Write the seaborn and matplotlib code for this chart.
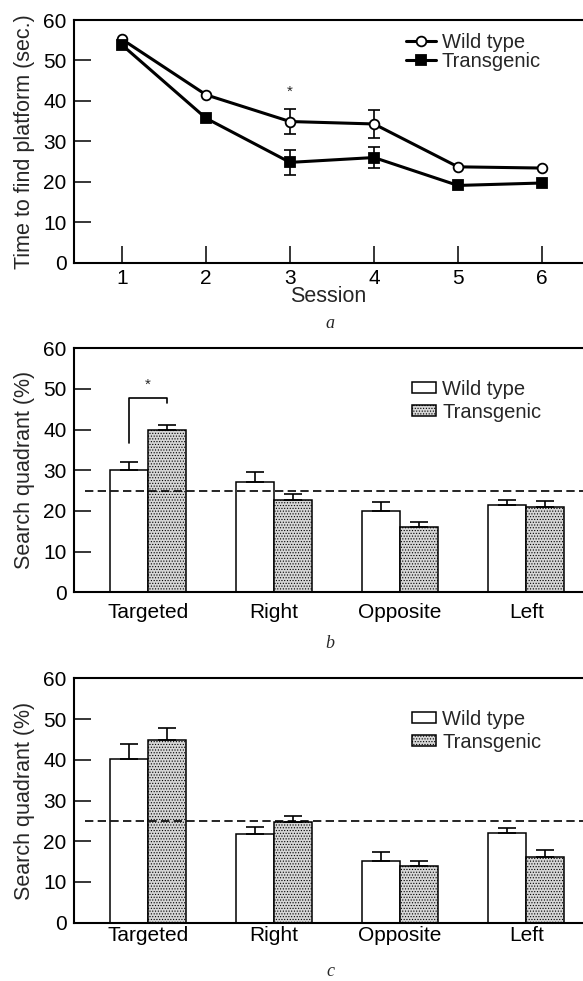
import numpy as np
import pandas as pd
import matplotlib
matplotlib.use("Agg")
import matplotlib.pyplot as plt
import seaborn as sns

# ---------------- data ----------------
sessions = [1, 2, 3, 4, 5, 6]
wt_time = [55.2, 41.5, 34.9, 34.3, 23.7, 23.4]
tg_time = [53.8, 35.7, 24.8, 26.0, 19.1, 19.7]
wt_time_err = [0.0, 0.0, 3.0, 3.5, 0.0, 0.0]
tg_time_err = [0.0, 0.0, 3.0, 2.7, 0.0, 0.0]

genotypes = ["Wild type", "Transgenic"]
quadrants = ["Targeted", "Right", "Opposite", "Left"]

b_wt = [30.0, 27.1, 20.1, 21.4]
b_wt_err = [2.0, 2.5, 2.2, 1.2]
b_tg = [39.9, 22.7, 16.0, 20.9]
b_tg_err = [1.3, 1.5, 1.3, 1.5]

c_wt = [40.1, 21.8, 15.2, 21.9]
c_wt_err = [3.7, 1.8, 2.1, 1.4]
c_tg = [44.8, 24.8, 14.0, 16.1]
c_tg_err = [2.9, 1.5, 1.2, 1.7]

chance_level = 25
star_a = (3, 42.3)
bracket_b = [36.7, 47.8, 46.5]   # left leg bottom, top, right leg bottom
star_b_y = 51.0

# ---------------- style ----------------
sns.set_style("white")
plt.rcParams["font.family"] = ["Liberation Sans", "DejaVu Sans"]
plt.rcParams["hatch.color"] = "#9a9a9a"
plt.rcParams["hatch.linewidth"] = 0.5

FS_TICK = 15
FS_LAB = 15.5
FS_LEG = 14.5

fig = plt.figure(figsize=(5.83, 9.81), dpi=100)
W, H = 583, 981


def axes_px(left, top, right, bottom):
    return fig.add_axes([left / W, 1 - bottom / H, (right - left) / W, (bottom - top) / H])


ax_a = axes_px(74.3, 20.0, 583, 262.7)
ax_b = axes_px(74.3, 348.3, 583, 592.3)
ax_c = axes_px(74.3, 678.3, 583, 922.7)


def style_axes(ax):
    for s in ["top", "left", "bottom"]:
        ax.spines[s].set_visible(True)
        ax.spines[s].set_linewidth(1.5)
        ax.spines[s].set_color("black")
    ax.spines["right"].set_visible(False)
    ax.set_ylim(0, 60)
    ax.set_yticks(range(0, 61, 10))
    ax.tick_params(axis="y", direction="in", length=12, width=1.1, pad=5.5,
                   labelsize=FS_TICK, colors="black", left=True)


# ---------------- panel a ----------------
df_a = pd.DataFrame({
    "Session": sessions * 2,
    "Time": wt_time + tg_time,
    "Err": wt_time_err + tg_time_err,
    "Genotype": [genotypes[0]] * len(sessions) + [genotypes[1]] * len(sessions),
})

ax = ax_a
for g, mk, mfc, ms in [(genotypes[0], "o", "white", 7), (genotypes[1], "s", "black", 7.5)]:
    sub = df_a[df_a["Genotype"] == g]
    e = sub[sub["Err"] > 0]
    ax.errorbar(e["Session"], e["Time"], yerr=e["Err"], fmt="none", ecolor="black",
                elinewidth=1.2, capsize=4, capthick=1.2, zorder=1)
    sns.lineplot(data=sub, x="Session", y="Time", ax=ax, color="black", lw=2.2,
                 marker=mk, markerfacecolor=mfc, markeredgecolor="black",
                 markeredgewidth=1.3, markersize=ms, label=g, zorder=3)

style_axes(ax)
ax.set_xlim(0.43, 6.49)
ax.set_xticks(sessions)
ax.tick_params(axis="x", direction="in", length=12.5, width=1.1, pad=4.8,
               labelsize=FS_TICK, colors="black", bottom=True)
ax.set_xlabel("Session", fontsize=FS_LAB, labelpad=-2)
ax.set_ylabel("Time to find platform (sec.)", fontsize=FS_LAB, labelpad=6)
ax.text(star_a[0], star_a[1], "*", ha="center", va="center", fontsize=11)
ax.legend(loc="upper left", bbox_to_anchor=(0.653, 0.945), frameon=False,
          fontsize=FS_LEG, handlelength=1.45, handletextpad=0.3, labelspacing=0.0,
          borderpad=0, borderaxespad=0)

fig.text(330 / W, 1 - 323 / H, "a", ha="center", va="center", fontsize=13,
         family="Liberation Serif", style="italic")


# ---------------- bar panels ----------------
def bar_panel(ax, wt, wt_err, tg, tg_err, xpad, label_letter, label_y):
    df = pd.DataFrame({
        "Quadrant": quadrants * 2,
        "Value": wt + tg,
        "Err": wt_err + tg_err,
        "Genotype": [genotypes[0]] * 4 + [genotypes[1]] * 4,
    })
    sns.barplot(data=df, x="Quadrant", y="Value", hue="Genotype", order=quadrants,
                hue_order=genotypes, palette={genotypes[0]: "white", genotypes[1]: "#d6d6d6"},
                edgecolor="black", linewidth=1.1, width=0.6, errorbar=None,
                legend=False, ax=ax, zorder=2)
    handles = []
    for cont, g in zip(ax.containers, genotypes):
        sub = df[df["Genotype"] == g]
        xs = [p.get_x() + p.get_width() / 2 for p in cont]
        hs = list(sub["Value"])
        es = list(sub["Err"])
        ax.errorbar(xs, hs, yerr=[np.zeros(len(es)), es], fmt="none", ecolor="black",
                    elinewidth=1.2, capsize=6.3, capthick=1.2, zorder=3)
        if g == genotypes[1]:
            for p in cont:
                p.set_hatch("......")
        handles.append(cont[0])
    style_axes(ax)
    ax.set_xlim(-0.584, 3.45)
    ax.tick_params(axis="x", length=0, pad=xpad, labelsize=FS_TICK, colors="black")
    ax.set_xlabel("")
    ax.set_ylabel("Search quadrant (%)", fontsize=FS_LAB, labelpad=6)
    ax.axhline(chance_level, xmin=0.022, xmax=1, color="black", lw=1.2,
               ls=(0, (5, 2.6)), zorder=4)
    ax.legend(handles, genotypes, loc="upper left", bbox_to_anchor=(0.664, 0.871),
              frameon=False, fontsize=FS_LEG, handlelength=1.2, handleheight=0.46,
              handletextpad=0.3, labelspacing=0.2, borderpad=0, borderaxespad=0)
    fig.text(330 / W, 1 - label_y / H, label_letter, ha="center", va="center",
             fontsize=13, family="Liberation Serif", style="italic")
    return ax


bar_panel(ax_b, b_wt, b_wt_err, b_tg, b_tg_err, 7.5, "b", 643)
bar_panel(ax_c, c_wt, c_wt_err, c_tg, c_tg_err, 2.4, "c", 972)

# significance bracket in panel b (Targeted group)
cont_wt, cont_tg = ax_b.containers[0], ax_b.containers[1]
x_l = cont_wt[0].get_x() + cont_wt[0].get_width() / 2
x_r = cont_tg[0].get_x() + cont_tg[0].get_width() / 2
ax_b.plot([x_l, x_l, x_r, x_r], [bracket_b[0], bracket_b[1], bracket_b[1], bracket_b[2]],
          color="black", lw=1.2, zorder=5)
ax_b.text((x_l + x_r) / 2, star_b_y, "*", ha="center", va="center", fontsize=11)

fig.savefig("out.png", dpi=100)
